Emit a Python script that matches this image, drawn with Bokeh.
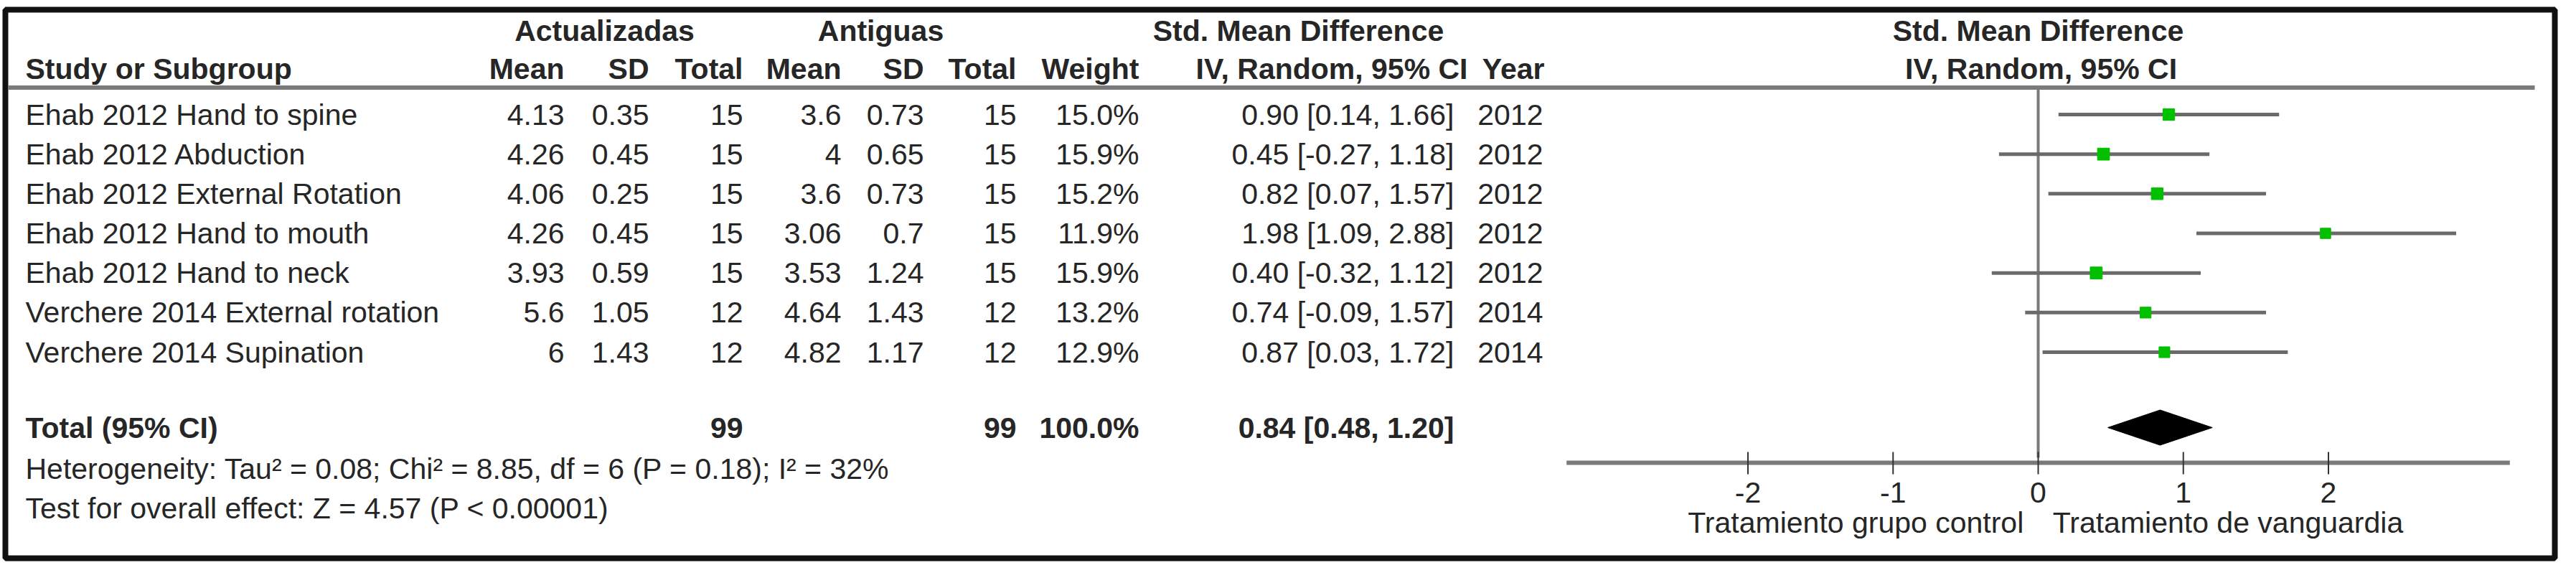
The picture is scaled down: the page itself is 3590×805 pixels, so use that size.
from bokeh.plotting import figure
from bokeh.models import Range1d, ColumnDataSource
from bokeh.core.properties import value
from bokeh.embed import file_html
from bokeh.resources import INLINE

# ---------------- data ----------------
studies = ["Ehab 2012 Hand to spine", "Ehab 2012 Abduction", "Ehab 2012 External Rotation",
           "Ehab 2012 Hand to mouth", "Ehab 2012 Hand to neck",
           "Verchere 2014 External rotation", "Verchere 2014 Supination"]
act_mean = [4.13, 4.26, 4.06, 4.26, 3.93, 5.6, 6]
act_sd = [0.35, 0.45, 0.25, 0.45, 0.59, 1.05, 1.43]
act_n = [15, 15, 15, 15, 15, 12, 12]
ant_mean = [3.6, 4, 3.6, 3.06, 3.53, 4.64, 4.82]
ant_sd = [0.73, 0.65, 0.73, 0.7, 1.24, 1.43, 1.17]
ant_n = [15, 15, 15, 15, 15, 12, 12]
weight = [15.0, 15.9, 15.2, 11.9, 15.9, 13.2, 12.9]
smd = [0.90, 0.45, 0.82, 1.98, 0.40, 0.74, 0.87]
ci_lo = [0.14, -0.27, 0.07, 1.09, -0.32, -0.09, 0.03]
ci_hi = [1.66, 1.18, 1.57, 2.88, 1.12, 1.57, 1.72]
years = [2012, 2012, 2012, 2012, 2012, 2014, 2014]

total_act_n = 99
total_ant_n = 99
total_weight = 100.0
total_smd = 0.84
total_lo = 0.48
total_hi = 1.20

heterogeneity = "Heterogeneity: Tau\u00b2 = 0.08; Chi\u00b2 = 8.85, df = 6 (P = 0.18); I\u00b2 = 32%"
overall_test = "Test for overall effect: Z = 4.57 (P < 0.00001)"

tick_values = [-2, -1, 0, 1, 2]
tick_labels = ["-2", "-1", "0", "1", "2"]
favours_left = "Tratamiento grupo control"
favours_right = "Tratamiento de vanguardia"

# ---------------- layout ----------------
W, H = 3574, 789
ROW0, ROWH = 167.0, 55.17          # pixel position of first study row, row pitch


def ry(px):
    return (px - ROW0) / ROWH


ZERO_PX, UNIT_PX = 2848.0, 202.25   # pixel position of SMD 0, pixels per SMD unit

p = figure(width=W, height=H, output_backend="svg", toolbar_location=None,
           x_range=Range1d(8, 8 + W), y_range=Range1d(ry(8 + H), ry(8)),
           x_axis_type=None, y_axis_type=None, min_border=0)
p.extra_x_ranges = {"smd": Range1d((8 - ZERO_PX) / UNIT_PX, (8 + W - ZERO_PX) / UNIT_PX)}
p.grid.visible = False
p.outline_line_color = None
p.background_fill_color = "white"
p.border_fill_color = "white"

FONT = value("Liberation Sans")
FS = "41px"
TXT = "#262626"


def txt(xs, ys, texts, align, bold=False, rng="default", color=TXT, size=FS):
    src = ColumnDataSource(dict(x=list(xs), y=list(ys), t=list(texts)))
    p.text(x="x", y="y", text="t", source=src, text_align=align, text_baseline="middle",
           text_font=FONT, text_font_size=size,
           text_font_style="bold" if bold else "normal",
           text_color=color, x_range_name=rng)


n = len(studies)
rows = list(range(n))
TOTAL_ROW = ry(603)
H1, H2 = ry(50), ry(103)

# frame
p.quad(left=[15], right=[3568], top=[ry(21)], bottom=[ry(785)],
       fill_color=None, line_color="#111111", line_width=8)
# header separator
p.segment(x0=[19], x1=[3540], y0=[ry(129.5)], y1=[ry(129.5)], line_color="#7a7a7a", line_width=6)

# header row 1
txt([850], [H1], ["Actualizadas"], "center", bold=True)
txt([1235], [H1], ["Antiguas"], "center", bold=True)
txt([1817], [H1], ["Std. Mean Difference"], "center", bold=True)
txt([0], [H1], ["Std. Mean Difference"], "center", bold=True, rng="smd")

# header row 2
txt([43], [H2], ["Study or Subgroup"], "left", bold=True)
hdr_x = [794, 912, 1043, 1180, 1295, 1424, 1595, 2053, 2160]
hdr_t = ["Mean", "SD", "Total", "Mean", "SD", "Total", "Weight", "IV, Random, 95% CI", "Year"]
txt(hdr_x, [H2] * len(hdr_x), hdr_t, "right", bold=True)
txt([0.02], [H2], ["IV, Random, 95% CI"], "center", bold=True, rng="smd")

# study rows
fmt = lambda v: format(v, "g")
txt([43] * n, rows, studies, "left")
txt([794] * n, rows, [fmt(v) for v in act_mean], "right")
txt([912] * n, rows, [fmt(v) for v in act_sd], "right")
txt([1043] * n, rows, [str(v) for v in act_n], "right")
txt([1180] * n, rows, [fmt(v) for v in ant_mean], "right")
txt([1295] * n, rows, [fmt(v) for v in ant_sd], "right")
txt([1424] * n, rows, [str(v) for v in ant_n], "right")
txt([1595] * n, rows, ["%.1f%%" % w for w in weight], "right")
txt([2034] * n, rows, ["%.2f [%.2f, %.2f]" % (e, l, h) for e, l, h in zip(smd, ci_lo, ci_hi)], "right")
txt([2158] * n, rows, [str(y) for y in years], "right")

# total row
txt([43], [TOTAL_ROW], ["Total (95% CI)"], "left", bold=True)
txt([1043, 1424, 1595, 2034], [TOTAL_ROW] * 4,
    [str(total_act_n), str(total_ant_n), "%.1f%%" % total_weight,
     "%.2f [%.2f, %.2f]" % (total_smd, total_lo, total_hi)], "right", bold=True)
txt([43], [ry(660)], [heterogeneity], "left")
txt([43], [ry(715)], [overall_test], "left")

# ---------------- forest plot ----------------
# line of no effect
p.segment(x0=[0], x1=[0], y0=[ry(130)], y1=[ry(645)], line_color="#7a7a7a", line_width=4,
          x_range_name="smd")
# confidence intervals
p.segment(x0=ci_lo, x1=ci_hi, y0=rows, y1=rows, line_color="#6a6a6a", line_width=5,
          x_range_name="smd")
# point estimates sized by weight
sizes = [4.2 * w ** 0.5 for w in weight]
p.scatter(x=smd, y=rows, size=sizes, marker="square", fill_color="#00c000",
          line_color="#00c000", x_range_name="smd")
# pooled diamond
dh = 24.5 / ROWH
p.patch(x=[total_lo, total_smd, total_hi, total_smd],
        y=[TOTAL_ROW, TOTAL_ROW - dh, TOTAL_ROW, TOTAL_ROW + dh],
        fill_color="black", line_color="black", line_width=1, x_range_name="smd")

# axis
AXIS_Y = ry(652)
p.segment(x0=[-3.25], x1=[3.25], y0=[AXIS_Y], y1=[AXIS_Y], line_color="#7a7a7a", line_width=6,
          x_range_name="smd")
nt = len(tick_values)
p.segment(x0=tick_values, x1=tick_values, y0=[ry(637)] * nt, y1=[ry(668)] * nt,
          line_color="#333333", line_width=2, x_range_name="smd")
txt(tick_values, [ry(693)] * nt, tick_labels, "center", rng="smd")
txt([-0.1], [ry(735)], [favours_left], "right", rng="smd")
txt([0.1], [ry(735)], [favours_right], "left", rng="smd")

open("out.html", "w").write(file_html(p, INLINE))
